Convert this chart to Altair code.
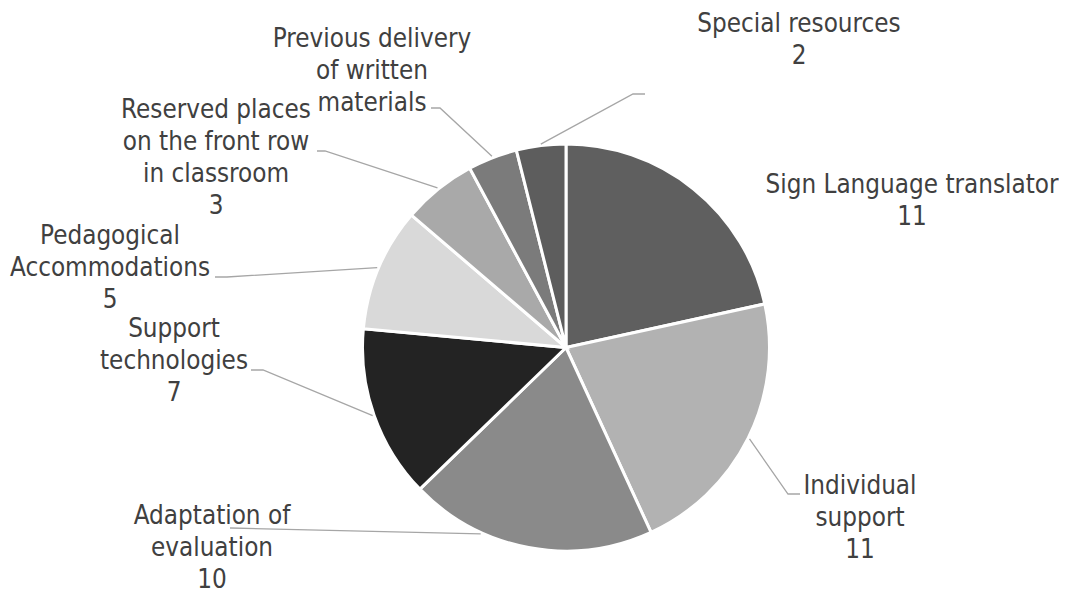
import math
import altair as alt
import pandas as pd

# ---------------- data ----------------
categories = [
    "Sign Language translator",
    "Individual support",
    "Adaptation of evaluation",
    "Support technologies",
    "Pedagogical Accommodations",
    "Reserved places on the front row in classroom",
    "Previous delivery of written materials",
    "Special resources",
]
values = [11, 11, 10, 7, 5, 3, 2, 2]
label_lines = [
    ["Sign Language translator"],
    ["Individual", "support"],
    ["Adaptation of", "evaluation"],
    ["Support", "technologies"],
    ["Pedagogical", "Accommodations"],
    ["Reserved places", "on the front row", "in classroom"],
    ["Previous delivery", "of written", "materials"],
    ["Special resources"],
]
show_value = [True, True, True, True, True, True, False, True]

# ---------------- styles / layout ----------------
colors = ["#5f5f5f", "#b2b2b2", "#8a8a8a", "#232323",
          "#d9d9d9", "#a9a9a9", "#7b7b7b", "#5d5d5d"]
FONT = "DejaVu Sans Condensed, DejaVu Sans"
FONT_SIZE = 25.8
LINE_H = 32
TEXT_COLOR = "#404040"
LEADER_COLOR = "#a6a6a6"

W, H = 1051, 587
M = 8  # page margin
CX, CY = 566 - M, 347.5 - M
R = 203.5
R_LEADER = 205

# label anchor: centre x, first baseline y (page px)
label_pos = [(912, 193), (860, 494), (212, 524), (174, 337),
             (110, 244), (216, 118), (372, 47), (799, 32)]
# leader elbow & end (page px); None = no leader
leader_pts = [None,
              [(788, 494), (800, 494)],
              [(231, 528), (230, 528)],
              [(263, 370), (251, 370)],
              [(227, 277), (215, 277)],
              [(325, 151), (317, 151)],
              [(440, 108), (431, 108)],
              [(633, 94), (645, 94)]]
leader_angle_offset = [0, 0, 14, 0, 0, 0, 0, 0]

# ---------------- tables ----------------
pie_df = pd.DataFrame({"category": categories, "value": values,
                       "order": list(range(len(values)))})

total = sum(values)
lab_rows, line_rows = [], []
cum = 0
for i, (cat, v) in enumerate(zip(categories, values)):
    mid = (cum + v / 2) / total * 360 + leader_angle_offset[i]
    cum += v
    txt = "\n".join(label_lines[i] + ([str(v)] if show_value[i] else []))
    lx, ly = label_pos[i]
    lab_rows.append({"category": cat, "text": txt, "x": lx - M, "y": ly - M})
    if leader_pts[i] is not None:
        a = math.radians(mid)
        sx = CX + R_LEADER * math.sin(a)
        sy = CY - R_LEADER * math.cos(a)
        pts = [(sx, sy)] + [(px - M, py - M) for px, py in leader_pts[i]]
        for k, (px, py) in enumerate(pts):
            line_rows.append({"category": cat, "k": k, "x": px, "y": py})

lab_df = pd.DataFrame(lab_rows)
line_df = pd.DataFrame(line_rows)

pie = alt.Chart(pie_df).mark_arc(
    outerRadius=R, stroke="white", strokeWidth=3
).encode(
    theta=alt.Theta("value:Q", stack=True),
    order=alt.Order("order:Q"),
    color=alt.Color("category:N",
                    scale=alt.Scale(domain=categories, range=colors),
                    legend=None),
    x=alt.value(CX),
    y=alt.value(CY),
)

leaders = alt.Chart(line_df).mark_line(
    stroke=LEADER_COLOR, strokeWidth=1.3
).encode(
    x=alt.X("x:Q", scale=None, axis=None),
    y=alt.Y("y:Q", scale=None, axis=None),
    detail="category:N",
    order="k:Q",
)

labels = alt.Chart(lab_df).mark_text(
    font=FONT, fontSize=FONT_SIZE, color=TEXT_COLOR,
    align="center", baseline="alphabetic",
    lineBreak="\n", lineHeight=LINE_H,
).encode(
    x=alt.X("x:Q", scale=None, axis=None),
    y=alt.Y("y:Q", scale=None, axis=None),
    text="text:N",
)

chart = alt.layer(pie, leaders, labels).properties(
    width=W, height=H, padding=0, autosize="none",
    background="white",
).configure_view(stroke=None)

chart.save("out.html", embed_options={"renderer": "svg", "actions": False})
